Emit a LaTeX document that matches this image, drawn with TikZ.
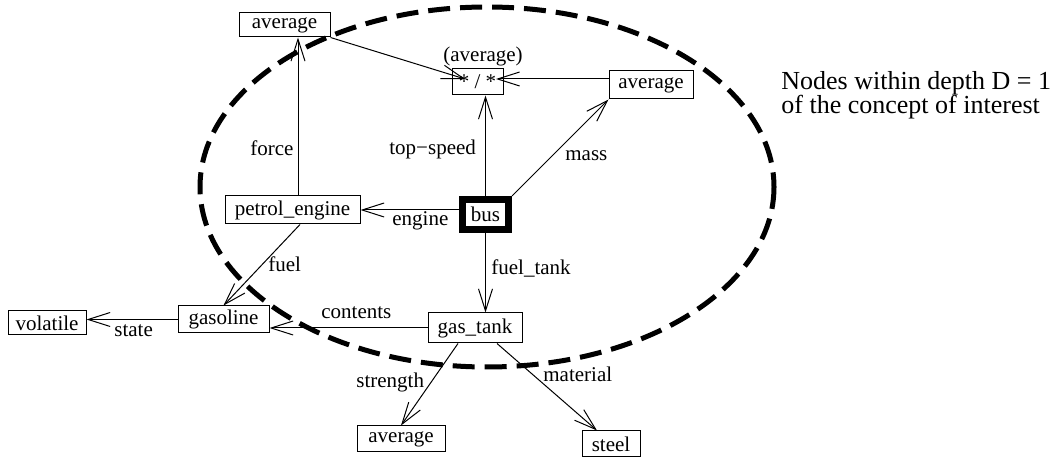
\documentclass[tikz,border=0pt]{standalone}
\usepackage{fontspec}
\setmainfont{Liberation Serif}
\usepackage{tikz}
\usetikzlibrary{arrows.meta}

\begin{document}
\begin{tikzpicture}[x=0.5pt,y=-0.5pt]
\tikzstyle{every node}+=[inner sep=0pt, font=\fontsize{10.5}{12}\selectfont]
\tikzstyle{box}=[draw=black, line width=0.5pt]
\tikzstyle{arc}=[black, line width=0.5pt, -{Straight Barb[length=11pt,width=7pt]}]
\tikzstyle{lbl}=[anchor=base west]
\useasboundingbox (0,0) rectangle (1060,458);
\node [box, minimum width=45.5pt, minimum height=12pt] (avgforce) at (284.5,25) {average};
\node [box, minimum width=25.5pt, minimum height=13pt] (ratio) at (477.5,82) {* / *};
\node [box, minimum width=42pt, minimum height=14pt] (avgmass) at (651,85) {average};
\node [box, minimum width=67.5pt, minimum height=14pt] (petrol) at (292.5,210) {petrol\_engine};
\node [draw=black, line width=3.5pt, minimum width=23pt, minimum height=15pt] (bus) at (485.5,214.5) {bus};
\node [box, minimum width=39pt, minimum height=12pt] (volatile) at (47,323) {volatile};
\node [box, minimum width=45.5pt, minimum height=13.5pt] (gasoline) at (223.5,319.5) {gasoline};
\node [box, minimum width=47pt, minimum height=15pt] (gastank) at (475,328) {gas\_tank};
\node [box, minimum width=44pt, minimum height=13pt] (avgstrength) at (401,439) {average};
\node [box, minimum width=29pt, minimum height=13pt] (steel) at (611,444) {steel};
\coordinate (opA) at ([xshift=-6.25pt,yshift=1.5pt]ratio.center);
\coordinate (opB) at ([xshift=9.25pt,yshift=1.5pt]ratio.center);
\coordinate (forcefoot) at ([xshift=2.75pt]petrol.north);
\coordinate (fuelfoot) at ([xshift=3.75pt]petrol.south);
\draw [arc] (avgforce.south east) -- (opA);
\draw [arc] (avgmass.west |- opB) -- (opB);
\draw [arc] (bus.north) -- (bus.north |- ratio.south);
\draw [arc] (bus.north east) -- (avgmass.south west);
\draw [arc] (bus.west |- petrol.east) -- (petrol.east);
\draw [arc] (bus.south) -- (bus.south |- gastank.north);
\draw [arc] (forcefoot) -- (forcefoot |- avgforce.south);
\draw [arc] (fuelfoot) -- (gasoline.north);
\draw [arc] (gastank.west) -- (gastank.west -| gasoline.east);
\draw [arc] (gasoline.west) -- (gasoline.west -| volatile.east);
\draw [arc] ([xshift=-8.5pt]gastank.south) -- (avgstrength.north);
\draw [arc] ([xshift=11pt]gastank.south) -- ([xshift=-7pt]steel.north);
\node [lbl] (lratio) at (443,62) {(average)};
\node [lbl] (lforce) at (250,156) {force};
\node [lbl] (lspeed) at (389,155) {top−speed};
\node [lbl] (lmass) at (565,161) {mass};
\node [lbl] (lengine) at (392,226) {engine};
\node [lbl] (lfuel) at (268,272) {fuel};
\node [lbl] (ltank) at (491,275) {fuel\_tank};
\node [lbl] (lcontents) at (321,319) {contents};
\node [lbl] (lstate) at (114,337) {state};
\node [lbl] (lstrength) at (356,388) {strength};
\node [lbl] (lmaterial) at (543,382) {material};
\node [anchor=west, align=left, font=\fontsize{13}{12}\selectfont] (note) at (781,95) {Nodes within depth D = 1\\of the concept of interest};
\draw [black, line width=2.5pt, dash pattern=on 11pt off 5pt] (487,187) ellipse [x radius=287, y radius=180];
\end{tikzpicture}
\end{document}
